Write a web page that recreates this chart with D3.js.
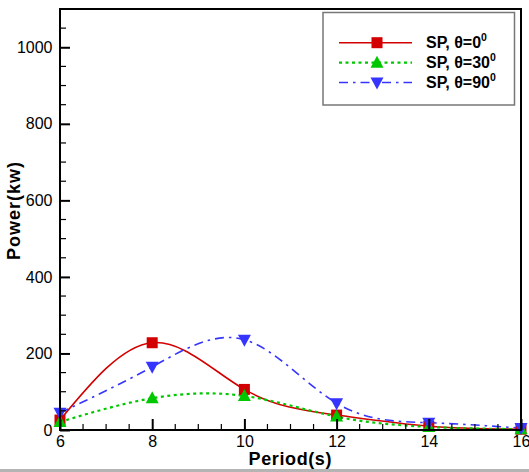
<!DOCTYPE html>
<html><head><meta charset="utf-8">
<script src="https://cdn.jsdelivr.net/npm/d3@7"></script>
<style>body{margin:0;background:#fff}svg{display:block}text{font-family:"Liberation Sans",Arial,sans-serif}</style>
</head><body>
<script>
const periods = [6, 8, 10, 12, 14, 16];
const sp0 = [26, 228, 106, 39, 10, 2];
const sp30 = [21, 83, 89, 35, 8, 2];
const sp90 = [45, 165, 236, 70, 19, 5];
const seriesNames = ["SP, \u03b8=0", "SP, \u03b8=30", "SP, \u03b8=90"];
const xTicks = [6, 8, 10, 12, 14, 16];
const yTicks = [0, 200, 400, 600, 800, 1000];

const W = 529, H = 472;
const svg = d3.select("body").append("svg").attr("width", W).attr("height", H);
const x = d3.scaleLinear().domain([6, 16]).range([60, 521]);
const y = d3.scaleLinear().domain([0, 1100]).range([430, 9]);

// bottom gray band of the picture frame
svg.append("rect").attr("x", 0).attr("y", 469).attr("width", W).attr("height", 3).attr("fill", "#b4b4b4");

const series = [
  {name: seriesNames[0], vals: sp0, color: "#d20000", dash: null, width: 1.6, sym: "square"},
  {name: seriesNames[1], vals: sp30, color: "#00c800", dash: "3,3.5", width: 2.2, sym: "up"},
  {name: seriesNames[2], vals: sp90, color: "#3535ff", dash: "9,5,2.5,5", width: 1.6, sym: "down"}
];

function marker(g, sym, cx, cy, color) {
  if (sym === "square") {
    g.append("rect").attr("x", cx - 5.5).attr("y", cy - 5.5).attr("width", 11).attr("height", 11).attr("fill", color);
  } else if (sym === "up") {
    g.append("path").attr("d", `M${cx},${cy - 7}L${cx + 6.5},${cy + 5}L${cx - 6.5},${cy + 5}Z`).attr("fill", color);
  } else {
    g.append("path").attr("d", `M${cx},${cy + 7}L${cx + 6.5},${cy - 5}L${cx - 6.5},${cy - 5}Z`).attr("fill", color);
  }
}

const line = d3.line().x(d => x(d[0])).y(d => y(d[1])).curve(d3.curveNatural);
const plot = svg.append("g");
series.forEach(s => {
  const pts = periods.map((p, i) => [p, s.vals[i]]);
  plot.append("path").attr("d", line(pts)).attr("fill", "none").attr("stroke", s.color)
    .attr("stroke-width", s.width).attr("stroke-dasharray", s.dash);
});
series.forEach(s => {
  periods.forEach((p, i) => marker(plot, s.sym, x(p), y(s.vals[i]), s.color));
});

// axes
const xAxis = svg.append("g").attr("transform", "translate(0,430)")
  .call(d3.axisBottom(x).tickValues(xTicks).tickSize(-11).tickPadding(6).tickFormat(d3.format("d")));
const yAxis = svg.append("g").attr("transform", "translate(60,0)")
  .call(d3.axisLeft(y).tickValues(yTicks).tickSize(-10).tickPadding(7.5).tickFormat(d3.format("d")));
[xAxis, yAxis].forEach(a => {
  a.select(".domain").remove();
  a.selectAll(".tick line").attr("stroke", "#000").attr("stroke-width", 2);
  a.selectAll(".tick text").attr("font-size", 16).attr("fill", "#000");
});
// minor ticks
const xMinor = d3.range(6, 16.01, 0.5).filter(v => !xTicks.includes(v));
svg.append("g").selectAll("line").data(xMinor).join("line")
  .attr("x1", d => x(d)).attr("x2", d => x(d)).attr("y1", 430).attr("y2", 424)
  .attr("stroke", "#000").attr("stroke-width", 1.2);
const yMinor = d3.range(0, 1100.1, 50).filter(v => !yTicks.includes(v));
svg.append("g").selectAll("line").data(yMinor).join("line")
  .attr("x1", 60).attr("x2", 66).attr("y1", d => y(d)).attr("y2", d => y(d))
  .attr("stroke", "#000").attr("stroke-width", 1.2);

// frame
svg.append("rect").attr("x", 60).attr("y", 9).attr("width", 461).attr("height", 421)
  .attr("fill", "none").attr("stroke", "#000").attr("stroke-width", 2);

// axis titles
svg.append("text").attr("x", 290).attr("y", 464.5).attr("text-anchor", "middle")
  .attr("font-size", 18).attr("font-weight", "bold").attr("textLength", 83).text("Period(s)");
svg.append("text").attr("transform", "translate(20,211) rotate(-90)").attr("text-anchor", "middle")
  .attr("font-size", 18).attr("font-weight", "bold").attr("textLength", 98).text("Power(kw)");

// legend
const lg = svg.append("g");
lg.append("rect").attr("x", 323).attr("y", 12.5).attr("width", 191.5).attr("height", 92.5)
  .attr("fill", "#fff").attr("stroke", "#777").attr("stroke-width", 1.5);
const rowY = [42.7, 62.7, 82.5];
series.forEach((s, i) => {
  const ry = rowY[i];
  lg.append("line").attr("x1", 339).attr("x2", 412).attr("y1", ry).attr("y2", ry)
    .attr("stroke", s.color).attr("stroke-width", s.width).attr("stroke-dasharray", s.dash);
  marker(lg, s.sym, 377, ry, s.color);
  const t = lg.append("text").attr("x", 426).attr("y", ry + 5.5).attr("font-size", 16).attr("font-weight", "bold").text(s.name);
  t.append("tspan").attr("font-size", 10.5).attr("dy", -7).text("0");
});
</script>
</body></html>
